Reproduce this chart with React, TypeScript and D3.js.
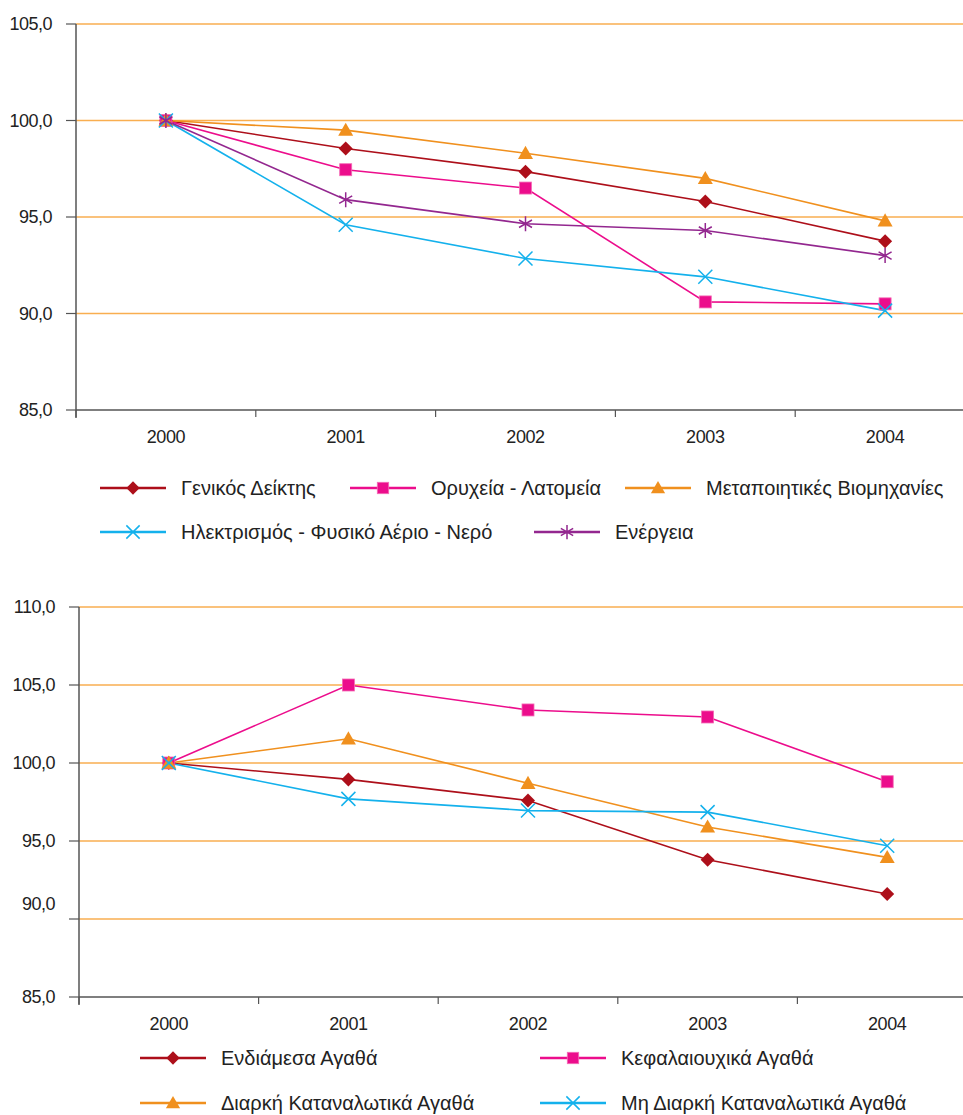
import React from "react";
import * as d3 from "d3";

const years = ["2000", "2001", "2002", "2003", "2004"];

// Top chart series
const genikos = [100, 98.55, 97.35, 95.8, 93.75];
const orycheia = [100, 97.45, 96.5, 90.6, 90.5];
const metapoiitikes = [100, 99.5, 98.3, 97.0, 94.8];
const ilektrismos = [100, 94.6, 92.85, 91.9, 90.15];
const energeia = [100, 95.9, 94.65, 94.3, 93.0];

// Bottom chart series
const endiamesa = [100, 98.95, 97.6, 93.8, 91.6];
const kefalaiouchika = [100, 105.0, 103.4, 102.95, 98.8];
const diarki = [100, 101.55, 98.7, 95.9, 93.95];
const miDiarki = [100, 97.7, 96.95, 96.85, 94.7];

const topTicks = [85, 90, 95, 100, 105];
const bottomTicks = [85, 90, 95, 100, 105, 110];

const C = {
  red: "#AD0F1A",
  magenta: "#EC0D8C",
  orange: "#F0901E",
  cyan: "#14B1EC",
  purple: "#93278F",
  grid: "#F9AE50",
  axis: "#555555",
  text: "#222222",
};

type Marker = "diamond" | "square" | "triangle" | "x" | "asterisk";

const FONT = "'Liberation Sans', Arial, sans-serif";

function MarkerShape({ kind, x, y, color, s = 1 }: { kind: Marker; x: number; y: number; color: string; s?: number }) {
  if (kind === "diamond") {
    const r = 7 * s;
    return <path d={`M${x},${y - r}L${x + r},${y}L${x},${y + r}L${x - r},${y}Z`} fill={color} />;
  }
  if (kind === "square") {
    const r = 6 * s;
    return <rect x={x - r} y={y - r} width={2 * r} height={2 * r} fill={color} stroke="#F46BB5" strokeWidth={0.8} />;
  }
  if (kind === "triangle") {
    const r = 7.5 * s;
    return <path d={`M${x},${y - r}L${x + r},${y + r * 0.75}L${x - r},${y + r * 0.75}Z`} fill={color} />;
  }
  if (kind === "x") {
    const r = 7 * s;
    return (
      <path d={`M${x - r},${y - r}L${x + r},${y + r}M${x - r},${y + r}L${x + r},${y - r}`} stroke={color} strokeWidth={1.5} fill="none" />
    );
  }
  const r = 7.5 * s;
  const a = r * Math.cos(Math.PI / 6);
  const b = r * Math.sin(Math.PI / 6);
  return (
    <path
      d={`M${x},${y - r}L${x},${y + r}M${x - a},${y - b}L${x + a},${y + b}M${x - a},${y + b}L${x + a},${y - b}`}
      stroke={color}
      strokeWidth={1.5}
      fill="none"
    />
  );
}

type Series = { name: string; values: number[]; color: string; marker: Marker };

const topSeries: Series[] = [
  { name: "Γενικός Δείκτης", values: genikos, color: C.red, marker: "diamond" },
  { name: "Ορυχεία - Λατομεία", values: orycheia, color: C.magenta, marker: "square" },
  { name: "Μεταποιητικές Βιομηχανίες", values: metapoiitikes, color: C.orange, marker: "triangle" },
  { name: "Ηλεκτρισμός - Φυσικό Αέριο - Νερό", values: ilektrismos, color: C.cyan, marker: "x" },
  { name: "Ενέργεια", values: energeia, color: C.purple, marker: "asterisk" },
];

const bottomSeries: Series[] = [
  { name: "Ενδιάμεσα Αγαθά", values: endiamesa, color: C.red, marker: "diamond" },
  { name: "Κεφαλαιουχικά Αγαθά", values: kefalaiouchika, color: C.magenta, marker: "square" },
  { name: "Διαρκή Καταναλωτικά Αγαθά", values: diarki, color: C.orange, marker: "triangle" },
  { name: "Μη Διαρκή Καταναλωτικά Αγαθά", values: miDiarki, color: C.cyan, marker: "x" },
];

function Chart({
  series,
  ticks,
  domain,
  yRange,
  xRange,
  labelShift,
}: {
  series: Series[];
  ticks: number[];
  domain: [number, number];
  yRange: [number, number];
  xRange: [number, number];
  labelShift?: (v: number) => number;
}) {
  const x = d3.scaleBand<string>().domain(years).range(xRange).padding(0);
  const y = d3.scaleLinear().domain(domain).range(yRange);
  const bw = x.bandwidth();
  const cx = (yr: string) => (x(yr) as number) + bw / 2;
  const line = d3
    .line<number>()
    .x((_, i) => cx(years[i]))
    .y((v) => y(v));
  const left = xRange[0];
  const bottom = y(domain[0]);
  const top = y(domain[1]);
  const bounds = years.map((yr) => x(yr) as number).concat([xRange[1]]);
  return (
    <g>
      {ticks
        .filter((t) => t !== domain[0])
        .map((t) => (
          <line key={"g" + t} x1={left} x2={963} y1={y(t)} y2={y(t)} stroke={C.grid} strokeWidth={1.5} />
        ))}
      <line x1={left} x2={left} y1={top} y2={bottom + 8} stroke={C.axis} strokeWidth={1.5} />
      <line x1={left} x2={963} y1={bottom} y2={bottom} stroke={C.axis} strokeWidth={1.5} />
      {ticks.map((t) => (
        <g key={"t" + t}>
          <line x1={left - 10} x2={left} y1={y(t)} y2={y(t)} stroke={C.axis} strokeWidth={1.2} />
          <text
            x={left - 24}
            y={y(t) + (labelShift ? labelShift(t) : 0)}
            dy="0.35em"
            textAnchor="end"
            fontFamily={FONT}
            fontSize={18}
            fill={C.text}
            letterSpacing={-0.5}
          >
            {d3.format(".1f")(t).replace(".", ",")}
          </text>
        </g>
      ))}
      {bounds.map((b, i) => (
        <line key={"b" + i} x1={b} x2={b} y1={bottom} y2={bottom + 7} stroke={C.axis} strokeWidth={1.2} />
      ))}
      {years.map((yr) => (
        <text
          key={yr}
          x={cx(yr)}
          y={bottom + 27}
          dy="0.35em"
          textAnchor="middle"
          fontFamily={FONT}
          fontSize={18}
          fill={C.text}
          letterSpacing={-0.4}
        >
          {yr}
        </text>
      ))}
      {series.map((s) => (
        <path key={s.name} d={line(s.values) || ""} fill="none" stroke={s.color} strokeWidth={1.6} />
      ))}
      {series.map((s) => (
        <g key={"m" + s.name}>
          {s.values.map((v, i) => (
            <MarkerShape key={i} kind={s.marker} x={cx(years[i])} y={y(v)} color={s.color} />
          ))}
        </g>
      ))}
    </g>
  );
}

function LegendItem({ s, x, y, lineW = 66 }: { s: Series; x: number; y: number; lineW?: number }) {
  return (
    <g>
      <line x1={x} x2={x + lineW} y1={y} y2={y} stroke={s.color} strokeWidth={2.5} />
      <MarkerShape kind={s.marker} x={x + lineW / 2} y={y} color={s.color} s={0.95} />
      <text x={x + lineW + 15} y={y} dy="0.35em" fontFamily={FONT} fontSize={20} fill={C.text}>
        {s.name}
      </text>
    </g>
  );
}

export default function App() {
  return (
    <svg
      width={963}
      height={1115}
      viewBox="0 0 963 1115"
      style={{ position: "absolute", left: 0, top: 0, background: "#fff" }}
    >
      <Chart series={topSeries} ticks={topTicks} domain={[85, 105]} yRange={[410, 24]} xRange={[76, 975]} />
      <LegendItem s={topSeries[0]} x={100} y={488} />
      <LegendItem s={topSeries[1]} x={350} y={488} />
      <LegendItem s={topSeries[2]} x={625} y={488} />
      <LegendItem s={topSeries[3]} x={100} y={532} />
      <LegendItem s={topSeries[4]} x={534} y={532} />

      <Chart
        series={bottomSeries}
        ticks={bottomTicks}
        domain={[85, 110]}
        yRange={[997, 607]}
        xRange={[79, 977]}
        labelShift={(v) => (v === 90 ? -15 : 0)}
      />
      <LegendItem s={bottomSeries[0]} x={140} y={1058} />
      <LegendItem s={bottomSeries[1]} x={540} y={1058} />
      <LegendItem s={bottomSeries[2]} x={140} y={1103} />
      <LegendItem s={bottomSeries[3]} x={540} y={1103} />
    </svg>
  );
}
